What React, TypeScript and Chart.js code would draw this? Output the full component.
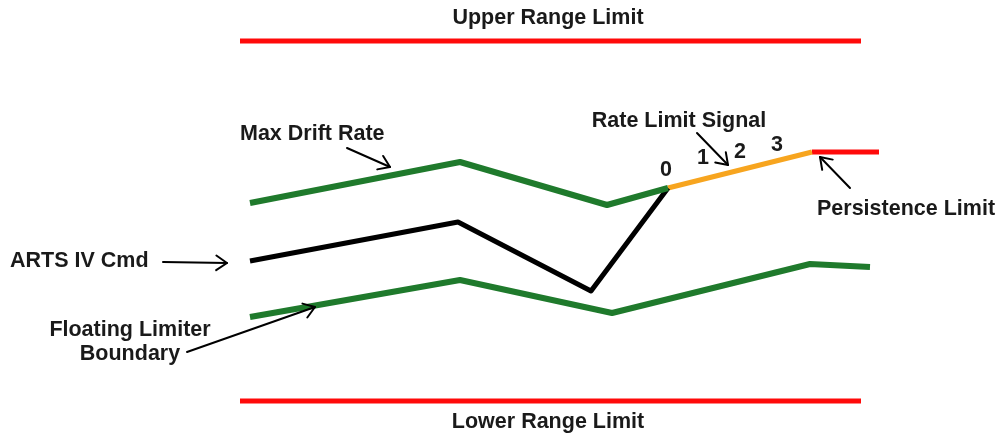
import React, { useEffect, useRef } from "react";
import { Chart, registerables } from "chart.js";

Chart.register(...registerables);

// Diagram coordinates (x to the right, y downward)
const rangeX = [240, 861];
const upperRangeY = [41, 41];
const lowerRangeY = [401, 401];

const maxDriftX = [250, 460, 607, 668];
const maxDriftY = [203, 162, 205, 188];

const rateLimitX = [668, 812];
const rateLimitY = [188, 152];

const persistenceX = [812, 879];
const persistenceY = [152, 152];

const artsX = [250, 458, 591, 668];
const artsY = [261, 222, 291, 188];

const floatingX = [250, 460, 612, 810, 870];
const floatingY = [317, 280, 313, 264, 267];

const labelTexts = [
  "Upper Range Limit",
  "Lower Range Limit",
  "Max Drift Rate",
  "Rate Limit Signal",
  "Persistence Limit",
  "ARTS IV Cmd",
  "Floating Limiter",
  "Boundary",
  "0",
  "1",
  "2",
  "3",
];
const labelX = [548, 548, 240, 679, 817, 10, 130, 130, 666, 703, 740, 777];
const labelY = [18, 422, 134, 121, 209, 261, 330, 354, 170, 158, 152, 145];
const labelAlign = ["center", "center", "left", "center", "left", "left", "center", "center", "center", "center", "center", "center"];

// arrows: tail -> head
const arrowTailX = [347, 697, 850, 163, 187];
const arrowTailY = [148, 133, 188, 262, 352];
const arrowHeadX = [390, 728, 820, 227, 315];
const arrowHeadY = [167, 165, 157, 263, 307];

const GREEN = "#1f7a2c";
const RED = "#ff0a0a";
const ORANGE = "#f7a51f";
const BLACK = "#000000";

const pts = (xs: number[], ys: number[]) => xs.map((x, i) => ({ x, y: ys[i] }));

const annotPlugin = {
  id: "annot",
  afterDatasetsDraw(chart: any) {
    const { ctx, scales } = chart;
    const sx = scales.x;
    const sy = scales.y;
    ctx.save();
    // arrows
    ctx.strokeStyle = "#000";
    ctx.lineWidth = 2;
    ctx.lineCap = "round";
    ctx.lineJoin = "round";
    for (let i = 0; i < arrowTailX.length; i++) {
      const x1 = sx.getPixelForValue(arrowTailX[i]);
      const y1 = sy.getPixelForValue(arrowTailY[i]);
      const x2 = sx.getPixelForValue(arrowHeadX[i]);
      const y2 = sy.getPixelForValue(arrowHeadY[i]);
      ctx.beginPath();
      ctx.moveTo(x1, y1);
      ctx.lineTo(x2, y2);
      ctx.stroke();
      const ang = Math.atan2(y2 - y1, x2 - x1);
      const len = 13;
      const spread = 0.6;
      ctx.beginPath();
      ctx.moveTo(x2 - len * Math.cos(ang - spread), y2 - len * Math.sin(ang - spread));
      ctx.lineTo(x2, y2);
      ctx.lineTo(x2 - len * Math.cos(ang + spread), y2 - len * Math.sin(ang + spread));
      ctx.stroke();
    }
    // labels
    ctx.fillStyle = "#1a1a1a";
    ctx.font = "bold 21.5px 'Liberation Sans', Arial, sans-serif";
    ctx.textBaseline = "middle";
    for (let i = 0; i < labelTexts.length; i++) {
      ctx.textAlign = labelAlign[i] as CanvasTextAlign;
      ctx.fillText(labelTexts[i], sx.getPixelForValue(labelX[i]), sy.getPixelForValue(labelY[i]));
    }
    ctx.restore();
  },
};

export default function App() {
  const ref = useRef<HTMLCanvasElement>(null);
  useEffect(() => {
    if (!ref.current) return;
    const line = (data: any, color: string, width: number) => ({
      data,
      borderColor: color,
      backgroundColor: color,
      borderWidth: width,
      pointRadius: 0,
      tension: 0,
      fill: false,
      borderCapStyle: "butt",
      borderJoinStyle: "round",
    });
    const chart = new Chart(ref.current, {
      type: "line",
      data: {
        datasets: [
          line(pts(rangeX, upperRangeY), RED, 5),
          line(pts(rangeX, lowerRangeY), RED, 5),
          line(pts(maxDriftX, maxDriftY), GREEN, 6),
          line(pts(floatingX, floatingY), GREEN, 6),
          line(pts(artsX, artsY), BLACK, 5),
          line(pts(rateLimitX, rateLimitY), ORANGE, 5),
          line(pts(persistenceX, persistenceY), RED, 5),
        ] as any,
      },
      options: {
        animation: false,
        responsive: false,
        maintainAspectRatio: false,
        parsing: false as any,
        layout: { padding: 0 },
        plugins: { legend: { display: false }, tooltip: { enabled: false } },
        scales: {
          x: { type: "linear", min: 0, max: 1002, display: false },
          y: { type: "linear", min: 0, max: 436, reverse: true, display: false },
        },
      },
      plugins: [annotPlugin],
    });
    return () => chart.destroy();
  }, []);
  return (
    <div style={{ position: "fixed", left: 0, top: 0, width: 1002, height: 436, background: "#fff" }}>
      <canvas ref={ref} width={1002} height={436} style={{ width: 1002, height: 436 }} />
    </div>
  );
}
